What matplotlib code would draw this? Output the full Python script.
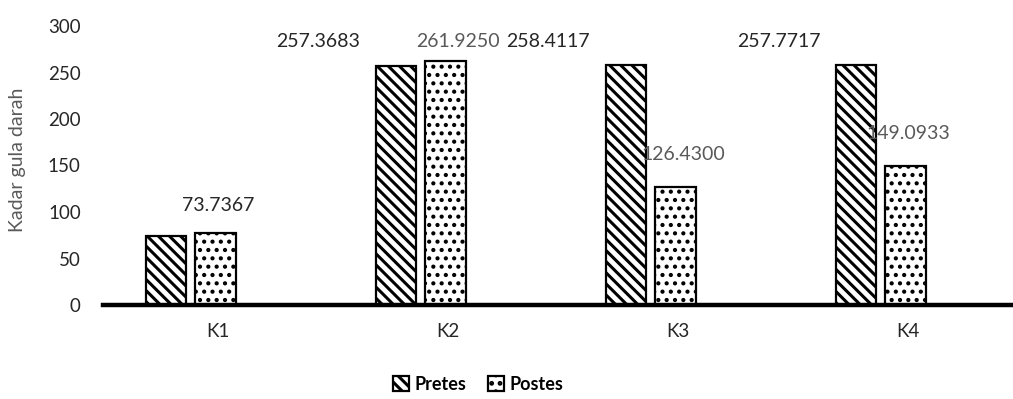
import matplotlib
matplotlib.use("Agg")
import matplotlib.pyplot as plt
import numpy as np

categories = ["K1", "K2", "K3", "K4"]
pretes = [73.7367, 257.3683, 258.4117, 257.7717]
postes = [77.4, 261.9250, 126.4300, 149.0933]
pretes_labels = ["73.7367", "257.3683", "258.4117", "257.7717"]
postes_labels = [None, "261.9250", "126.4300", "149.0933"]
series_names = ["Pretes", "Postes"]
yticks = [0, 50, 100, 150, 200, 250, 300]

plt.rcParams['font.family'] = ['Lato', 'DejaVu Sans']
plt.rcParams['hatch.linewidth'] = 2.2
plt.rcParams['hatch.color'] = 'black'

fig = plt.figure(figsize=(10.13, 3.99), dpi=100)
ax = fig.add_axes([103/1013, 94/399, 920/1013, 279/399])

x = np.arange(len(categories))
w = 0.178
off_pre = -0.226
off_post = -0.011

b1 = ax.bar(x + off_pre, pretes, w, facecolor='white', edgecolor='black',
            linewidth=1.6, hatch='\\\\\\', label=series_names[0], zorder=2)
b2 = ax.bar(x + off_post, postes, w, facecolor='white', edgecolor='black',
            linewidth=1.6, hatch='..', label=series_names[1], zorder=2)
for p in b2.patches:
    try:
        p.set_hatch_linewidth(1.8)
    except Exception:
        pass

# data labels (manually placed in the original), offsets from category centre
pre_lab_dx = [0.0, -0.565, -0.565, -0.561]
pre_lab_y = [106.5, 282.8, 282.8, 282.8]
post_lab_dx = [0, 0.043, 0.022, 0.0]
post_lab_y = [0, 282.8, 162, 184]
for i in range(len(categories)):
    ax.text(x[i] + pre_lab_dx[i], pre_lab_y[i], pretes_labels[i],
            ha='center', va='center', fontsize=14, color='#262626')
    if postes_labels[i]:
        ax.text(x[i] + post_lab_dx[i], post_lab_y[i], postes_labels[i],
                ha='center', va='center', fontsize=14, color='#595959')

ax.set_xlim(-0.5, 3.5)
ax.set_ylim(0, 300)
ax.set_yticks(yticks)
ax.set_xticks(x)
ax.set_xticklabels(categories)
ax.tick_params(axis='both', length=0, labelsize=13.5, colors='#262626')
ax.tick_params(axis='x', pad=13)
ax.tick_params(axis='y', pad=16)
for s in ['top', 'right', 'left']:
    ax.spines[s].set_visible(False)
ax.spines['bottom'].set_linewidth(3.2)
ax.spines['bottom'].set_color('black')
ax.spines['bottom'].set_zorder(3)

fig.text(18/1013, 1 - 160/399, "Kadar gula darah", rotation=90, ha='center',
         va='center', fontsize=14, color='#595959')

leg = fig.legend(handles=[b1, b2], loc='center', bbox_to_anchor=(478/1013, 1 - 384/399),
                 ncol=2, frameon=False, prop={'weight': 'bold', 'size': 13},
                 handlelength=0.9, handleheight=0.9, handletextpad=0.3, columnspacing=1.2)

fig.savefig("out.png", dpi=100)
